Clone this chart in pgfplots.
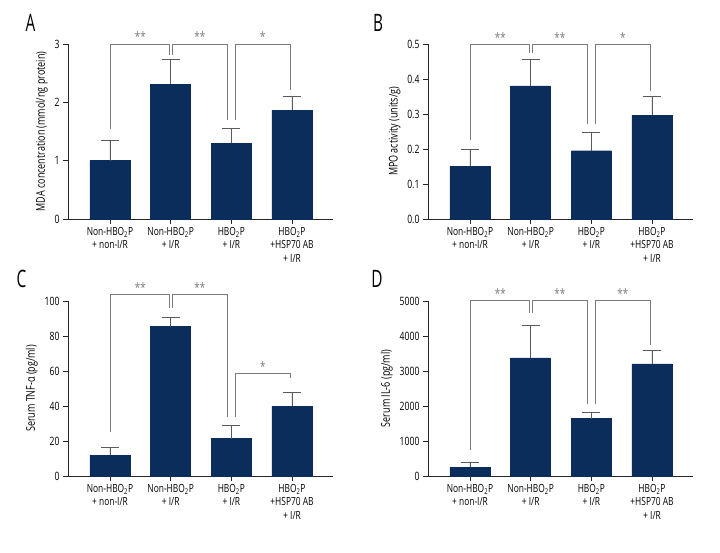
\documentclass[border=0pt]{standalone}
\usepackage{pgfplots}
\pgfplotsset{compat=1.18}
\usepackage{fontspec}
\setmainfont{Open Sans}[FakeStretch=0.75]
\newfontfamily\letterfont{Open Sans}[FakeStretch=0.64]
\definecolor{barblue}{HTML}{0B2D5B}
\definecolor{brk}{HTML}{7A7A7A}
\definecolor{errc}{HTML}{5A5A5A}
\tikzset{sigstar/.style={brk, font=\fontsize{13}{13}\selectfont, anchor=base, yshift=2pt}}
\pgfplotsset{
  panel/.style={
    scale only axis, width=265pt, height=175pt,
    axis lines=left, axis line style={-, black!85, line width=0.8pt},
    xmin=-0.692, xmax=3.676, ymin=0,
    xtick={0,1,2,3},
    xticklabels={{Non-HBO\textsubscript{2}P\\+ non-I/R},{Non-HBO\textsubscript{2}P\\+ I/R},{HBO\textsubscript{2}P\\+ I/R},{HBO\textsubscript{2}P\\+HSP70 AB\\+ I/R}},
    xticklabel style={align=center, font=\fontsize{11.2}{13.3}\selectfont},
    yticklabel style={font=\fontsize{11.5}{12}\selectfont},
    /pgf/number format/assume math mode=true,
    /pgf/number format/1000 sep={},
    tick align=outside, major tick length=5pt,
    tick style={black!85, line width=0.8pt},
    ylabel style={font=\fontsize{12}{13}\selectfont},
    clip=false,
  },
  bars/.style={ybar, bar width=40pt, fill=barblue, draw=barblue,
    error bars/.cd, y dir=plus, y explicit,
    error bar style={errc, line width=0.8pt},
    error mark options={errc, line width=0.8pt, mark size=9pt, rotate=90}},
  brack/.style={brk, line width=0.8pt, mark=none},
}
\begin{document}
\begin{tikzpicture}
\path[use as bounding box] (0,0) rectangle (720pt,552pt);
% Panel letters
\node[font=\fontsize{24}{24}\letterfont, anchor=base] at (30.5pt,520pt) {A};
\node[font=\fontsize{24}{24}\letterfont, anchor=base] at (378pt,520pt) {B};
\node[font=\fontsize{24}{24}\letterfont, anchor=base] at (21.5pt,264pt) {C};
\node[font=\fontsize{24}{24}\letterfont, anchor=base] at (377pt,264pt) {D};

% Panel A
\begin{axis}[panel, at={(68pt,333pt)}, anchor=south west,
  ymax=3, ytick={0,1,2,3},
  ylabel={MDA concentration (mmol/ng protein)}]
\addplot[bars] coordinates {(0,1.00) +- (0,0.34) (1,2.31) +- (0,0.42) (2,1.30) +- (0,0.25) (3,1.86) +- (0,0.24)};
\addplot[brack] coordinates {(0,1.55) (0,3) (0.985,3) (0.985,2.81)};
\addplot[brack] coordinates {(1.03,2.81) (1.03,3) (1.93,3) (1.93,1.70)};
\addplot[brack] coordinates {(2.07,1.70) (2.07,3) (2.97,3) (2.97,2.21)};
\node[sigstar] at (axis cs:0.5,3) {**};
\node[sigstar] at (axis cs:1.48,3) {**};
\node[sigstar] at (axis cs:2.52,3) {*};
\end{axis}

% Panel B
\begin{axis}[panel, at={(428pt,333pt)}, anchor=south west,
  ymax=0.5, ytick={0,0.1,0.2,0.3,0.4,0.5},
  yticklabel style={/pgf/number format/fixed, /pgf/number format/precision=1, /pgf/number format/fixed zerofill},
  ylabel={MPO activity (units/g)}]
\addplot[bars] coordinates {(0,0.150) +- (0,0.050) (1,0.380) +- (0,0.077) (2,0.195) +- (0,0.051) (3,0.297) +- (0,0.052)};
\addplot[brack] coordinates {(0,0.225) (0,0.5) (0.985,0.5) (0.985,0.475)};
\addplot[brack] coordinates {(1.03,0.475) (1.03,0.5) (1.93,0.5) (1.93,0.27)};
\addplot[brack] coordinates {(2.07,0.27) (2.07,0.5) (2.97,0.5) (2.97,0.366)};
\node[sigstar] at (axis cs:0.5,0.5) {**};
\node[sigstar] at (axis cs:1.48,0.5) {**};
\node[sigstar] at (axis cs:2.52,0.5) {*};
\end{axis}

% Panel C
\begin{axis}[panel, at={(68pt,76pt)}, anchor=south west,
  ymax=100, ytick={0,20,40,60,80,100},
  ylabel={Serum TNF-α (pg/ml)}]
\addplot[bars] coordinates {(0,12.0) +- (0,4.3) (1,85.4) +- (0,5.3) (2,21.4) +- (0,7.8) (3,39.8) +- (0,8.2)};
\addplot[brack] coordinates {(0,24.9) (0,103.6) (0.985,103.6) (0.985,96.0)};
\addplot[brack] coordinates {(1.03,96.0) (1.03,103.6) (1.93,103.6) (1.93,33.8)};
\addplot[brack] coordinates {(2.07,33.8) (2.07,58.8) (2.97,58.8) (2.97,56.2)};
\node[sigstar] at (axis cs:0.5,103.6) {**};
\node[sigstar] at (axis cs:1.48,103.6) {**};
\node[sigstar] at (axis cs:2.52,58.8) {*};
\end{axis}

% Panel D
\begin{axis}[panel, at={(428pt,76pt)}, anchor=south west,
  ymax=5000, ytick={0,1000,2000,3000,4000,5000},
  ylabel={Serum IL-6 (pg/ml)}]
\addplot[bars] coordinates {(0,247) +- (0,142) (1,3378) +- (0,920) (2,1641) +- (0,190) (3,3207) +- (0,370)};
\addplot[brack] coordinates {(0,740) (0,5028) (0.985,5028) (0.985,4649)};
\addplot[brack] coordinates {(1.03,4649) (1.03,5028) (1.93,5028) (1.93,2068)};
\addplot[brack] coordinates {(2.07,2068) (2.07,5028) (2.97,5028) (2.97,3757)};
\node[sigstar] at (axis cs:0.5,5028) {**};
\node[sigstar] at (axis cs:1.48,5028) {**};
\node[sigstar] at (axis cs:2.52,5028) {**};
\end{axis}
\end{tikzpicture}
\end{document}
